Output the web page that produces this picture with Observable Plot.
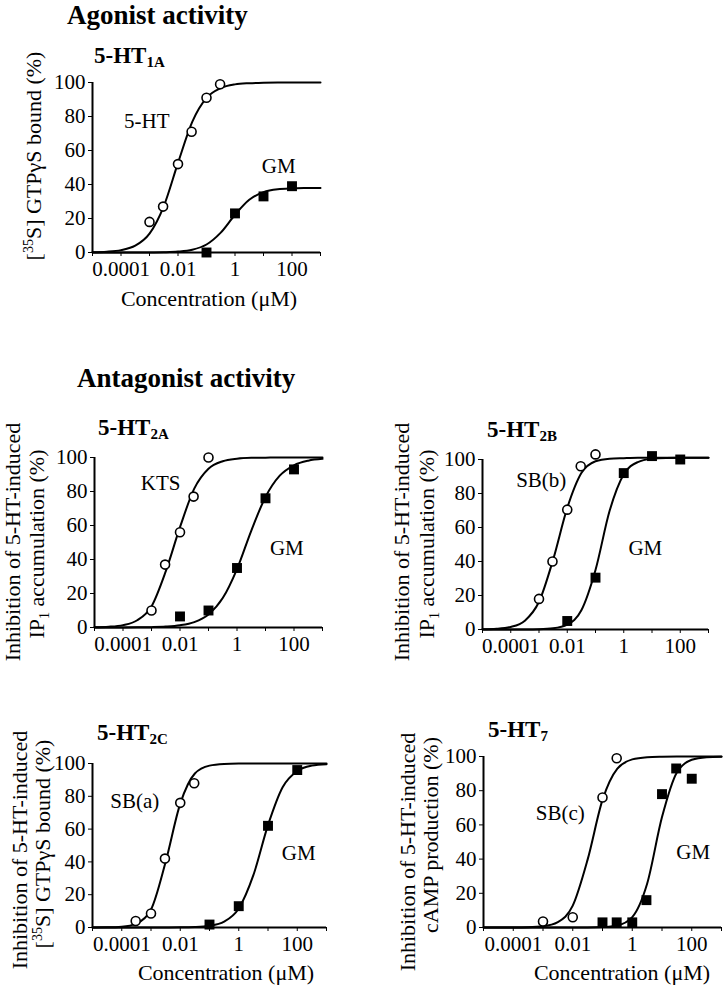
<!DOCTYPE html>
<html>
<head>
<meta charset="utf-8">
<script src="https://cdn.jsdelivr.net/npm/d3@7"></script>
<script src="https://cdn.jsdelivr.net/npm/@observablehq/plot@0.6"></script>
<style>
  html, body { margin: 0; padding: 0; background: #fff; }
  #page { position: relative; width: 727px; height: 990px; overflow: hidden; background: #fff; }
  .panel { position: absolute; }
  #overlay { position: absolute; left: 0; top: 0; }
  #page svg text, #page svg tspan { font-family: "Liberation Serif", "Times New Roman", serif !important; }
</style>
</head>
<body>
<div id="page"></div>
<script>
// ---------- shared axis data ----------
const xTicks = [1e-5, 1e-4, 1e-3, 1e-2, 1e-1, 1, 10, 100, 1000];
const xTickLabels = ["", "0.0001", "", "0.01", "", "1", "", "100", ""];
const yTicks = [0, 20, 40, 60, 80, 100];
// fitted-curve sample concentrations (half-decade steps), µM
const curveConc = [1e-5, 3.16e-5, 1e-4, 3.16e-4, 1e-3, 3.16e-3, 1e-2, 3.16e-2, 0.1, 0.316, 1, 3.16, 10, 31.6, 100, 316, 1000];

// ---------- 5-HT1A (agonist) ----------
const ht1a_5ht_conc = [0.001, 0.003, 0.01, 0.03, 0.1, 0.3];
const ht1a_5ht_resp = [18, 27, 52, 71, 91, 99];
const ht1a_gm_conc = [0.1, 1, 10, 100];
const ht1a_gm_resp = [0, 23, 33, 39];
const ht1a_5ht_curve = [0.16, 0.47, 1.4, 4.0, 11.1, 27.2, 52.7, 76.8, 90.9, 96.7, 98.9, 99.6, 99.9, 100, 100, 100, 100];
const ht1a_gm_curve = [0, 0, 0.01, 0.02, 0.05, 0.17, 0.53, 1.62, 4.7, 11.7, 22.2, 31.0, 35.5, 37.2, 37.7, 37.9, 38.0];
const ht1a_labels = ["5-HT", "GM"];
const ht1a_labelConc = [0.0008, 34];
const ht1a_labelResp = [77, 51];

// ---------- 5-HT2A ----------
const ht2a_kts_conc = [0.001, 0.003, 0.01, 0.03, 0.1];
const ht2a_kts_resp = [10, 37, 56, 77, 100];
const ht2a_gm_conc = [0.01, 0.1, 1, 10, 100];
const ht2a_gm_resp = [6.5, 10, 35, 76, 93];
const ht2a_kts_curve = [0.14, 0.44, 1.39, 4.27, 12.4, 33, 59, 81.7, 93.4, 97.8, 99.3, 99.8, 99.9, 100, 100, 100, 100];
const ht2a_gm_curve = [0.01, 0.01, 0.03, 0.08, 0.21, 0.52, 1.3, 3.2, 7.7, 17.3, 34.4, 56.9, 76.8, 89.3, 95.4, 98.1, 99.2];
const ht2a_labels = ["KTS", "GM"];
const ht2a_labelConc = [0.0021, 56];
const ht2a_labelResp = [85, 46.5];

// ---------- 5-HT2B ----------
const ht2b_sb_conc = [0.001, 0.003, 0.01, 0.03, 0.1];
const ht2b_sb_resp = [18, 40, 70.5, 96, 103];
const ht2b_gm_conc = [0.01, 0.1, 1, 10, 100];
const ht2b_gm_resp = [5, 30.5, 92, 102, 100];
const ht2b_sb_curve = [0.12, 0.43, 1.52, 5.2, 16.3, 41.1, 71.5, 92, 99, 100.5, 100.8, 101, 101, 101, 101, 101, 101];
const ht2b_gm_curve = [0, 0, 0.01, 0.04, 0.17, 0.71, 2.9, 11.3, 35.0, 69.8, 91.3, 98.5, 100.4, 100.9, 101, 101, 101];
const ht2b_labels = ["SB(b)", "GM"];
const ht2b_labelConc = [0.0012, 5.8];
const ht2b_labelResp = [88, 48];

// ---------- 5-HT2C ----------
const ht2c_sb_conc = [0.0003, 0.001, 0.003, 0.01, 0.03];
const ht2c_sb_resp = [4, 8.5, 42, 76, 88];
const ht2c_gm_conc = [0.1, 1, 10, 100];
const ht2c_gm_resp = [1.8, 13, 62, 96];
const ht2c_sb_curve = [0.02, 0.1, 0.49, 2.4, 11.0, 40, 75.5, 93.9, 98.7, 99.7, 99.95, 100, 100, 100, 100, 100, 100];
const ht2c_gm_curve = [0, 0, 0, 0, 0.01, 0.03, 0.08, 0.29, 1.04, 3.58, 11.6, 31.9, 62.4, 85.5, 95.4, 98.7, 99.6];
const ht2c_labels = ["SB(a)", "GM"];
const ht2c_labelConc = [0.00028, 112];
const ht2c_labelResp = [77, 45];

// ---------- 5-HT7 ----------
const ht7_sb_conc = [0.001, 0.01, 0.1, 0.3];
const ht7_sb_resp = [3.5, 6, 76, 99];
const ht7_gm_conc = [0.1, 0.3, 1, 3, 10, 30, 100];
const ht7_gm_resp = [3, 3, 3, 16, 78, 93, 87];
const ht7_sb_curve = [0, 0.01, 0.04, 0.17, 0.74, 3.2, 12.8, 39.7, 74.6, 92.9, 98.3, 99.6, 99.9, 100, 100, 100, 100];
const ht7_gm_curve = [0, 0, 0, 0, 0, 0, 0.01, 0.04, 0.23, 1.2, 6.1, 25.6, 64.6, 90.7, 98.1, 99.6, 99.9];
const ht7_labels = ["SB(c)", "GM"];
const ht7_labelConc = [0.0038, 112];
const ht7_labelResp = [67, 44];

// ---------- helpers ----------
const zip = (xs, ys) => xs.map((x, i) => ({x, y: ys[i]}));
const fmtX = d => {
  const i = xTicks.findIndex(t => Math.abs(Math.log10(t) - Math.log10(d)) < 1e-6);
  return i >= 0 ? xTickLabels[i] : "";
};

const page = document.getElementById("page");

function panel(cfg) {
  const chart = Plot.plot({
    width: cfg.width,
    height: cfg.height,
    marginLeft: cfg.marginLeft,
    marginRight: cfg.marginRight,
    marginTop: cfg.marginTop,
    marginBottom: cfg.marginBottom,
    style: {
      fontFamily: "'Liberation Serif', 'Times New Roman', serif",
      fontSize: "20.5px",
      color: "black",
      background: "transparent",
      overflow: "visible"
    },
    x: {type: "log", domain: [1e-5, 1e3], ticks: xTicks, tickFormat: fmtX, tickSize: 4, tickPadding: 5, label: null},
    y: {domain: [0, 100], ticks: yTicks, tickSize: 4, tickPadding: 3, label: null},
    marks: [
      Plot.ruleY([0], {stroke: "black", strokeWidth: 2}),
      Plot.ruleX([1e-5], {stroke: "black", strokeWidth: 2}),
      Plot.line(zip(curveConc, cfg.curveA), {x: "x", y: "y", curve: "monotone-x", stroke: "black", strokeWidth: 2}),
      Plot.line(zip(curveConc, cfg.curveB), {x: "x", y: "y", curve: "monotone-x", stroke: "black", strokeWidth: 2}),
      Plot.dot(zip(cfg.aConc, cfg.aResp), {x: "x", y: "y", r: 4.5, stroke: "black", strokeWidth: 1.6, fill: "white"}),
      Plot.dot(zip(cfg.bConc, cfg.bResp), {x: "x", y: "y", r: 5.6, symbol: "square", fill: "black", stroke: "none"}),
      Plot.text(cfg.labels.map((t, i) => ({t, x: cfg.labelConc[i], y: cfg.labelResp[i]})),
        {x: "x", y: "y", text: "t", fontSize: 21, fill: "black", textAnchor: "middle"})
    ]
  });
  // force tick-label size on every text of the chart
  chart.querySelectorAll("text").forEach(t => {
    t.style.setProperty("font-size", "21px", "important");
    t.setAttribute("font-size", "21");
  });
  chart.classList.add("panel");
  chart.style.left = cfg.left + "px";
  chart.style.top = cfg.top + "px";
  page.appendChild(chart);
}

panel({left: 0, top: 72, width: 328, height: 215, marginLeft: 92, marginRight: 8, marginTop: 10, marginBottom: 35,
  curveA: ht1a_5ht_curve, curveB: ht1a_gm_curve, aConc: ht1a_5ht_conc, aResp: ht1a_5ht_resp,
  bConc: ht1a_gm_conc, bResp: ht1a_gm_resp, labels: ht1a_labels, labelConc: ht1a_labelConc, labelResp: ht1a_labelResp});

panel({left: 0, top: 447, width: 330, height: 215, marginLeft: 94, marginRight: 8, marginTop: 10, marginBottom: 35,
  curveA: ht2a_kts_curve, curveB: ht2a_gm_curve, aConc: ht2a_kts_conc, aResp: ht2a_kts_resp,
  bConc: ht2a_gm_conc, bResp: ht2a_gm_resp, labels: ht2a_labels, labelConc: ht2a_labelConc, labelResp: ht2a_labelResp});

panel({left: 360, top: 449, width: 358, height: 215, marginLeft: 122, marginRight: 10, marginTop: 10, marginBottom: 35,
  curveA: ht2b_sb_curve, curveB: ht2b_gm_curve, aConc: ht2b_sb_conc, aResp: ht2b_sb_resp,
  bConc: ht2b_gm_conc, bResp: ht2b_gm_resp, labels: ht2b_labels, labelConc: ht2b_labelConc, labelResp: ht2b_labelResp});

panel({left: 0, top: 753, width: 334, height: 209, marginLeft: 92, marginRight: 8, marginTop: 10, marginBottom: 35,
  curveA: ht2c_sb_curve, curveB: ht2c_gm_curve, aConc: ht2c_sb_conc, aResp: ht2c_sb_resp,
  bConc: ht2c_gm_conc, bResp: ht2c_gm_resp, labels: ht2c_labels, labelConc: ht2c_labelConc, labelResp: ht2c_labelResp});

panel({left: 360, top: 746, width: 367, height: 216, marginLeft: 123, marginRight: 6, marginTop: 10, marginBottom: 35,
  curveA: ht7_sb_curve, curveB: ht7_gm_curve, aConc: ht7_sb_conc, aResp: ht7_sb_resp,
  bConc: ht7_gm_conc, bResp: ht7_gm_resp, labels: ht7_labels, labelConc: ht7_labelConc, labelResp: ht7_labelResp});

// ---------- titles and axis labels (text overlay) ----------
const NS = "http://www.w3.org/2000/svg";
const ov = document.createElementNS(NS, "svg");
ov.setAttribute("id", "overlay");
ov.setAttribute("width", 727);
ov.setAttribute("height", 990);
page.appendChild(ov);

function txt(parts, attrs) {
  const t = document.createElementNS(NS, "text");
  for (const k in attrs) t.setAttribute(k, attrs[k]);
  for (const p of parts) {
    const s = document.createElementNS(NS, "tspan");
    s.textContent = p.t;
    if (p.size) s.setAttribute("font-size", p.size);
    if (p.dy) s.setAttribute("dy", p.dy);
    s.setAttribute("fill", "black");
    t.appendChild(s);
  }
  ov.appendChild(t);
}

// section titles
txt([{t: "Agonist activity"}], {x: 67, y: 24, "font-size": 27, "font-weight": "bold"});
txt([{t: "Antagonist activity"}], {x: 77, y: 387, "font-size": 27, "font-weight": "bold"});

// panel titles
const subTitles = [
  {main: "5-HT", sub: "1A", x: 94, y: 63},
  {main: "5-HT", sub: "2A", x: 98, y: 435},
  {main: "5-HT", sub: "2B", x: 487, y: 437},
  {main: "5-HT", sub: "2C", x: 97, y: 740},
  {main: "5-HT", sub: "7", x: 488, y: 737}
];
for (const s of subTitles) {
  txt([{t: s.main}, {t: s.sub, size: 15, dy: 4}], {x: s.x, y: s.y, "font-size": 23, "font-weight": "bold"});
}

// rotated y-axis labels
function ylab(parts, x, cy) {
  txt(parts, {x: 0, y: 0, "font-size": 22, "text-anchor": "middle", transform: `translate(${x},${cy}) rotate(-90)`});
}
const gtpLine = [{t: "["}, {t: "35", size: 14, dy: -8}, {t: "S] GTPγS bound (%)", dy: 8}];
const ipLine = [{t: "IP"}, {t: "1", size: 14, dy: 5}, {t: " accumulation (%)", dy: -5}];
ylab(gtpLine, 41, 156);
ylab([{t: "Inhibition of 5-HT-induced"}], 20, 542);
ylab(ipLine, 44, 544);
ylab([{t: "Inhibition of 5-HT-induced"}], 409, 542);
ylab(ipLine, 434, 544);
ylab([{t: "Inhibition of 5-HT-induced"}], 27, 850);
ylab(gtpLine, 50, 844);
ylab([{t: "Inhibition of 5-HT-induced"}], 415, 852);
ylab([{t: "cAMP production (%)"}], 438, 835);

// x-axis labels
txt([{t: "Concentration (μM)"}], {x: 209, y: 306, "font-size": 22, "text-anchor": "middle"});
txt([{t: "Concentration (μM)"}], {x: 226, y: 980, "font-size": 22, "text-anchor": "middle"});
txt([{t: "Concentration (μM)"}], {x: 622, y: 980, "font-size": 22, "text-anchor": "middle"});
</script>
</body>
</html>
